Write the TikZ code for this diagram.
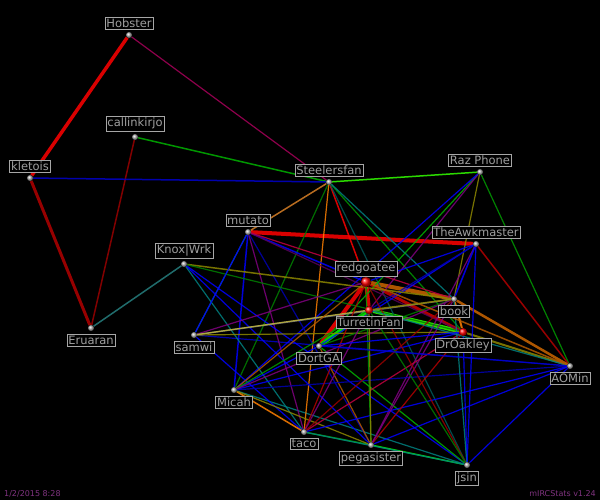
\documentclass[tikz,border=0pt]{standalone}
\usepackage{fontspec}
\setmainfont{DejaVu Sans}
\usetikzlibrary{backgrounds}
\tikzset{dot/.style={circle,inner sep=0pt,minimum size=6pt,shading=ball,ball color=gray!60},
hot/.style={circle,inner sep=0pt,minimum size=10pt,shading=ball,ball color=red},
tag/.style={draw=gray!70,fill=black,text=gray!75,font=\fontsize{11.5}{12}\selectfont,inner sep=1.5pt},
link/.style={line width=#1,opacity=0.85}}
\begin{document}
\begin{tikzpicture}[x=1pt,y=-1pt]
% people
\node[dot] (hob) at (129,35) {};
\node[dot] (cal) at (135,137) {};
\node[dot] (kle) at (30,178) {};
\node[dot] (ste) at (329,182) {};
\node[dot] (raz) at (480,172) {};
\node[dot] (mut) at (248,232) {};
\node[dot] (awk) at (476,244) {};
\node[dot] (kno) at (184,264) {};
\node[hot] (red) at (366,282) {};
\node[dot] (boo) at (454,299) {};
\node[hot,minimum size=8pt] (tur) at (369,310) {};
\node[hot,minimum size=8pt] (dro) at (463,332) {};
\node[dot] (eru) at (91,328) {};
\node[dot] (sam) at (194,335) {};
\node[dot] (dor) at (319,346) {};
\node[dot] (aom) at (570,366) {};
\node[dot] (mic) at (234,390) {};
\node[dot] (tac) at (304,432) {};
\node[dot] (peg) at (371,445) {};
\node[dot] (jsi) at (467,465) {};
% links
\begin{scope}[on background layer]
\fill[black] (0,0) rectangle (600,500);
\foreach \a/\b/\c/\w in {
hob/kle/red/3.5, kle/eru/red!70!black/3, hob/ste/violet!70!red/1.2,
cal/ste/green!70!black/1.5, cal/eru/red!60!black/1.5, kle/ste/blue!80!black/1.5,
eru/kno/teal!70!gray/1.5, mut/awk/red/4, red/tur/red/4, red/dor/red/4,
tur/dor/green/4, tur/dro/green!80!yellow/4, red/boo/orange!80!black/4,
red/dro/red!80!black/3, boo/dro/orange/2, ste/raz/green!80!yellow/1.5,
raz/aom/green!60!black/1.2, awk/aom/red!70!black/1.5, boo/aom/orange!80!black/2.5,
dro/aom/olive/2, aom/jsi/blue/1.2, tac/peg/green!70!black/1.5, peg/jsi/green/1.5,
mic/jsi/teal/1.2, sam/aom/blue!80!black/1.2, ste/red/red/1.5, ste/dro/green!60!black/1.2,
ste/boo/teal/1.2, ste/jsi/teal!70!black/1.2, ste/tac/orange/1.2, ste/mic/green!50!black/1.2,
raz/dor/green!70!black/1.2, raz/tur/violet/1.2, raz/mic/blue/1.2, raz/boo/olive/1.2,
mut/red/blue/1.5, mut/dro/violet!70!black/1.2, mut/mic/blue/1.5, mut/tac/violet/1.2,
mut/ste/orange!70!gray/1.5, mut/sam/teal/1.2, mut/peg/blue!70!black/1.2, mut/boo/purple/1.2,
awk/dor/blue/1.2, awk/peg/violet/1.2, awk/tur/blue!70!black/1.2, awk/red/blue/1.2,
kno/boo/olive/1.5, kno/dro/green!50!black/1.2, kno/peg/blue/1.2, kno/tac/teal/1.2, kno/jsi/blue/1.2,
sam/red/violet/1.2, sam/boo/gray/1.5, sam/dro/olive/1.2, sam/tac/blue/1.2, sam/tur/yellow!70!black/1.2,
sam/mut/blue/1.2,
dor/boo/green!50!black/1.2, dor/peg/orange!70!black/1.2, dor/jsi/green!70!black/1.2, dor/mic/blue/1.2,
mic/red/orange!70!black/1.2, mic/tur/green!60!black/1.2, mic/dro/blue/1.2, mic/boo/violet/1.2,
mic/tac/orange/1.5, mic/peg/olive/1.2, mic/aom/blue!70!black/1.2,
tac/red/red!70!black/1.2, tac/tur/violet/1.2, tac/dro/purple/1.2, tac/boo/red!60!black/1.2,
tac/jsi/teal/1.2, tac/aom/blue/1.2,
peg/red/green!60!black/1.2, peg/tur/olive/1.2, peg/dro/red!70!black/1.2, peg/boo/violet/1.2,
peg/aom/blue/1.2, jsi/red/red!60!black/1.2, jsi/tur/green!50!black/1.2, jsi/dro/blue/1.2,
jsi/boo/teal/1.2, tur/aom/teal/1.2, red/aom/orange!70!black/1.5, tur/boo/olive/1.5,
dor/dro/blue/1.2, dor/aom/blue!80!black/1.2, awk/jsi/blue/1.2, awk/boo/blue/1.5}
  \draw[link=\w,draw=\c] (\a) -- (\b);
\end{scope}
% names
\node[tag,above=6pt] (hobl) at (hob) {Hobster};
\node[tag,above=6pt] (call) at (cal) {callinkirjo};
\node[tag,above=6pt] (klel) at (kle) {kletois};
\node[tag,above=6pt] (stel) at (ste) {Steelersfan};
\node[tag,above=6pt] (razl) at (raz) {Raz Phone};
\node[tag,above=6pt] (mutl) at (mut) {mutato};
\node[tag,above=6pt] (awkl) at (awk) {TheAwkmaster};
\node[tag,above=6pt] (knol) at (kno) {Knox|Wrk};
\node[tag,above=6pt] (redl) at (red) {redgoatee};
\node[tag,below=6pt] (bool) at (boo) {book};
\node[tag,below=6pt] (turl) at (tur) {TurretinFan};
\node[tag,below=6pt] (drol) at (dro) {DrOakley};
\node[tag,below=6pt] (erul) at (eru) {Eruaran};
\node[tag,below=6pt] (saml) at (sam) {samwi};
\node[tag,below=6pt] (dorl) at (dor) {DortGA};
\node[tag,below=6pt] (aoml) at (aom) {AOMin};
\node[tag,below=6pt] (micl) at (mic) {Micah};
\node[tag,below=6pt] (tacl) at (tac) {taco};
\node[tag,below=6pt] (pegl) at (peg) {pegasister};
\node[tag,below=6pt] (jsil) at (jsi) {jsin};
\node[anchor=south west,text=violet!60!gray,font=\fontsize{8}{9}\selectfont,inner sep=1pt] (date) at (3,498) {1/2/2015 8:28};
\node[anchor=south east,text=violet!60!gray,font=\fontsize{8}{9}\selectfont,inner sep=1pt] (ver) at (597,498) {mIRCStats v1.24};
\end{tikzpicture}
\end{document}
